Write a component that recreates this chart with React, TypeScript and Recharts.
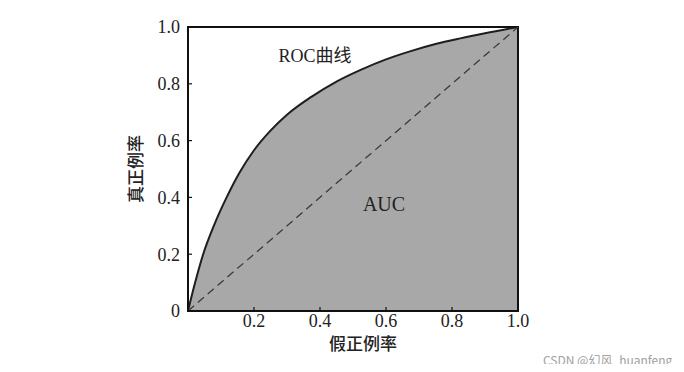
import React from 'react';
import {
  ComposedChart,
  Area,
  XAxis,
  YAxis,
  ReferenceLine,
  ReferenceArea,
  ReferenceDot,
  Label,
} from 'recharts';

// ROC curve points (false positive rate, true positive rate)
const fprValues = [0, 0.02, 0.046, 0.08, 0.117, 0.155, 0.2, 0.25, 0.3, 0.375, 0.45, 0.525, 0.6, 0.675, 0.75, 0.825, 0.9, 1.0];
const tprValues = [0, 0.093, 0.2, 0.305, 0.4, 0.485, 0.566, 0.635, 0.691, 0.755, 0.808, 0.85, 0.886, 0.915, 0.94, 0.96, 0.978, 1.0];

const xTicks = [0.2, 0.4, 0.6, 0.8, 1.0];
const yTicks = [0, 0.2, 0.4, 0.6, 0.8, 1.0];

const xAxisTitle = '假正例率';
const yAxisTitle = '真正例率';
const curveLabel = 'ROC曲线';
const areaLabel = 'AUC';
const watermark = 'CSDN @幻风_huanfeng';

const data = fprValues.map((fpr, i) => ({ fpr, tpr: tprValues[i] }));

const serif = '"Liberation Serif", "Noto Sans CJK SC", serif';
const cjk = '"Noto Sans CJK SC", sans-serif';

const fmt = (v: number) => (v === 0 ? '0' : v.toFixed(1));

export default function App() {
  return (
    <div style={{ position: 'relative', width: 676, height: 356 }}>
      <ComposedChart
        width={676}
        height={356}
        data={data}
        margin={{ top: 19, right: 166, left: 120, bottom: 23 }}
      >
        <Area
          type="monotone"
          dataKey="tpr"
          stroke="#1e1e1e"
          strokeWidth={2}
          fill="#a8a8a8"
          fillOpacity={1}
          isAnimationActive={false}
          dot={false}
          activeDot={false}
        />
        <ReferenceLine
          segment={[
            { x: 0, y: 0 },
            { x: 1, y: 1 },
          ]}
          stroke="#3a3a3a"
          strokeWidth={1.3}
          strokeDasharray="8 5"
        />
        <ReferenceArea x1={0} x2={1} y1={0} y2={1} fill="none" stroke="#111" strokeWidth={2} />
        <ReferenceDot x={0.385} y={0.9} r={0} fill="none" stroke="none">
          <Label
            value={curveLabel}
            position="center"
            style={{ fontFamily: serif, fontSize: 18, fill: '#222' }}
          />
        </ReferenceDot>
        <ReferenceDot x={0.594} y={0.377} r={0} fill="none" stroke="none">
          <Label
            value={areaLabel}
            position="center"
            style={{ fontFamily: serif, fontSize: 20, fill: '#222' }}
          />
        </ReferenceDot>
        <XAxis
          dataKey="fpr"
          type="number"
          domain={[0, 1]}
          ticks={xTicks}
          tickFormatter={fmt}
          height={30}
          axisLine={{ stroke: '#111', strokeWidth: 2 }}
          tickLine={{ stroke: '#111', strokeWidth: 1.2 }}
          tickSize={-4}
          tickMargin={7}
          tick={{ fill: '#222', fontFamily: serif, fontSize: 18 }}
        >
          <Label
            value={xAxisTitle}
            position="bottom"
            offset={-3}
            dx={10}
            style={{ fontFamily: cjk, fontSize: 17, fontWeight: 500, fill: '#222' }}
          />
        </XAxis>
        <YAxis
          type="number"
          domain={[0, 1]}
          ticks={yTicks}
          tickFormatter={fmt}
          width={60}
          axisLine={{ stroke: '#111', strokeWidth: 2 }}
          tickLine={{ stroke: '#111', strokeWidth: 1.2 }}
          tickSize={-4}
          tickMargin={12}
          tick={{ fill: '#222', fontFamily: serif, fontSize: 18 }}
        >
          <Label
            value={yAxisTitle}
            angle={-90}
            position="center"
            dx={-22}
            style={{ fontFamily: cjk, fontSize: 17, fontWeight: 500, fill: '#222', textAnchor: 'middle' }}
          />
        </YAxis>
      </ComposedChart>
      <span
        style={{
          position: 'absolute',
          left: 535,
          top: 343,
          fontFamily: cjk,
          fontSize: 12,
          color: '#a0a0a0',
          whiteSpace: 'nowrap',
        }}
      >
        {watermark}
      </span>
    </div>
  );
}
